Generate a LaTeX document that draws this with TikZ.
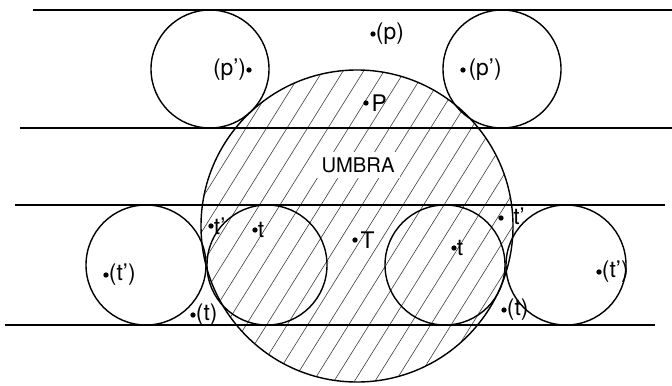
\documentclass[tikz,border=0pt]{standalone}
\usepackage{fontspec}
\setmainfont{TeX Gyre Heros}

\tikzset{
  rail/.style={line width=0.8pt},
  disc/.style={line width=0.8pt},
  hatch/.style={line width=0.35pt, black!75},
  lbl/.style={font=\fontsize{13}{15}\selectfont, inner sep=1.5pt}
}

\begin{document}
\begin{tikzpicture}[x=0.02cm, y=-0.02cm]
    \useasboundingbox (0,0) rectangle (672,385);

    % centres des cercles
    \coordinate (U) at (357,226);
    \coordinate (pl) at (210,69);
    \coordinate (pr) at (502,69);
    \coordinate (tla) at (146,265);
    \coordinate (tlb) at (267,265);
    \coordinate (trb) at (445,265);
    \coordinate (tra) at (566,265);

    % ombre : cercle hachure
    \begin{scope}
        \clip (U) circle (156);
        \foreach \k in {0,...,27}
            \draw[hatch] (\k*20.5-20,390) -- ++(206,-330);
    \end{scope}
    \draw[disc] (U) circle (156);

    % les quatre droites
    \draw[rail] (33,10) -- (672,10);
    \draw[rail] (20,128) -- (672,128);
    \draw[rail] (15,205) -- (665,205);
    \draw[rail] (5,325) -- (655,325);

    % petits cercles
    \draw[disc] (pl) circle (59);
    \draw[disc] (pr) circle (59);
    \foreach \c in {tla,tlb,trb,tra}
        \draw[disc] (\c) circle (60);

    % points et noms
    \coordinate (dp) at (373,34);
    \fill (dp) circle (1.5pt) node[lbl, right] (lp) {(p)};
    \coordinate (dpl) at (249,70);
    \fill (dpl) circle (1.5pt) node[lbl, left] (lpl) {(p')};
    \coordinate (dpr) at (463,70);
    \fill (dpr) circle (1.5pt) node[lbl, right, inner sep=3pt] (lpr) {(p')};
    \coordinate (dP) at (366,103);
    \fill (dP) circle (1.5pt) node[lbl, right, inner sep=3pt] (lP) {P};

    \node[lbl, font=\fontsize{11.5}{13}\selectfont, fill=white, inner sep=3pt] (umbra) at (358,165) {UMBRA};

    \coordinate (dtq) at (211,226);
    \fill (dtq) circle (1.5pt) node[lbl, right] (ltq) {t'};
    \coordinate (dt) at (255,230);
    \fill (dt) circle (1.5pt) node[lbl, right] (lt) {t};
    \coordinate (dT) at (355,240);
    \fill (dT) circle (1.5pt) node[lbl, right, inner sep=3pt] (lT) {T};
    \coordinate (dtt) at (454,248);
    \fill (dtt) circle (1.5pt) node[lbl, right] (ltt) {t};
    \coordinate (dtr) at (501,218);
    \fill (dtr) circle (1.5pt);
    \node[lbl] (ltr) at (519,216) {t'};

    \coordinate (dtpl) at (106,275);
    \fill (dtpl) circle (1.5pt) node[lbl, right] (ltpl) {(t')};
    \coordinate (dtpr) at (599,272);
    \fill (dtpr) circle (1.5pt) node[lbl, right] (ltpr) {(t')};
    \coordinate (dtl) at (193,315);
    \fill (dtl) circle (1.5pt) node[lbl, right] (ltl) {(t)};
    \coordinate (dtrr) at (504,310);
    \fill (dtrr) circle (1.5pt) node[lbl, right] (ltrr) {(t)};
\end{tikzpicture}
\end{document}
